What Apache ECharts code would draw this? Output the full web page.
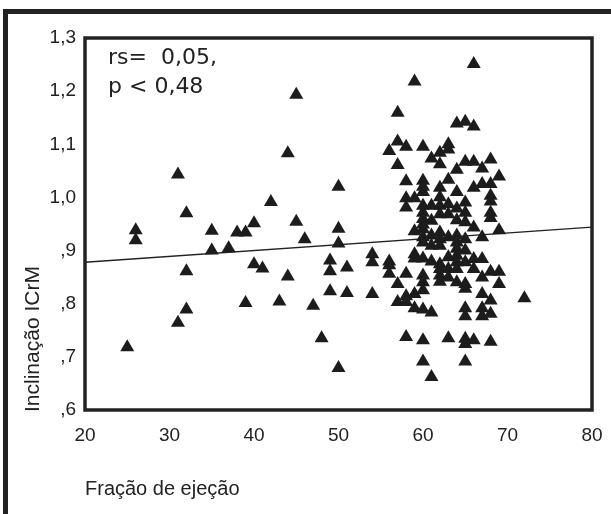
<!DOCTYPE html>
<html>
<head>
<meta charset="utf-8">
<script src="https://cdn.jsdelivr.net/npm/echarts@6/dist/echarts.min.js"></script>
<style>html,body{margin:0;padding:0;background:#fff;}#c{width:611px;height:514px;}</style>
</head>
<body>
<div id="c"></div>
<script>
// Ejection fraction (x) grouped by value, and ICrM slope values (y)
const ejectionFraction = [
  25, 26, 26, 31, 31, 32, 32, 32, 35, 35, 37, 38, 39, 39, 40, 40, 41, 42, 43, 44, 44, 45, 45, 46, 47, 48,
  49, 49, 49, 50, 50, 50, 50, 51, 51, 54, 54, 54,
  56, 56, 56, 56,
  57, 57, 57, 57, 57,
  58, 58, 58, 58, 58, 58, 58, 58,
  59, 59, 59, 59, 59, 59, 59,
  60, 60, 60, 60, 60, 60, 60, 60, 60, 60, 60, 60, 60, 60, 60, 60, 60, 60,
  61, 61, 61, 61, 61, 61, 61, 61,
  62, 62, 62, 62, 62, 62, 62, 62, 62, 62, 62, 62, 62,
  63, 63, 63, 63, 63, 63, 63, 63, 63, 63,
  64, 64, 64, 64, 64, 64, 64, 64, 64, 64, 64, 64,
  65, 65, 65, 65, 65, 65, 65, 65, 65, 65, 65, 65, 65, 65, 65,
  66, 66, 66, 66, 66, 66, 66, 66,
  67, 67, 67, 67, 67, 67, 67, 67,
  68, 68, 68, 68, 68, 68, 68, 68, 68, 68,
  69, 69, 69, 69,
  72
];
const inclination = [
  0.722, 0.942, 0.923, 1.047, 0.768, 0.974, 0.865, 0.793, 0.941, 0.904, 0.908, 0.938, 0.938, 0.805, 0.955, 0.878, 0.870, 0.995, 0.808, 1.087, 0.855, 1.197, 0.958, 0.925, 0.800, 0.739,
  0.885, 0.865, 0.827, 1.024, 0.945, 0.917, 0.683, 0.872, 0.824, 0.897, 0.882, 0.822,
  1.091, 0.883, 0.876, 0.860,
  1.163, 1.109, 1.065, 0.841, 0.807,
  1.099, 1.034, 1.002, 0.985, 0.860, 0.818, 0.807, 0.741,
  1.222, 1.002, 0.940, 0.897, 0.889, 0.822, 0.795,
  1.099, 1.035, 1.024, 1.014, 0.988, 0.975, 0.963, 0.953, 0.944, 0.929, 0.919, 0.889, 0.857, 0.844, 0.829, 0.793, 0.735, 0.695,
  1.077, 0.988, 0.960, 0.932, 0.913, 0.883, 0.787, 0.666,
  1.088, 1.066, 1.022, 1.004, 0.988, 0.972, 0.938, 0.925, 0.913, 0.878, 0.869, 0.857, 0.845,
  1.104, 1.094, 1.037, 0.991, 0.972, 0.929, 0.891, 0.869, 0.853, 0.739,
  1.143, 1.056, 1.014, 0.983, 0.961, 0.932, 0.919, 0.907, 0.894, 0.882, 0.869, 0.844,
  1.146, 1.071, 0.994, 0.975, 0.957, 0.925, 0.904, 0.882, 0.841, 0.832, 0.795, 0.780, 0.738, 0.728, 0.695,
  1.255, 1.137, 1.071, 1.022, 0.947, 0.888, 0.869, 0.735,
  1.058, 1.029, 0.929, 0.888, 0.853, 0.822, 0.795, 0.780,
  1.075, 1.029, 1.007, 0.996, 0.975, 0.965, 0.864, 0.810, 0.785, 0.732,
  1.043, 0.942, 0.864, 0.841,
  0.814
];
// Fitted regression line end points
const fitX = [20, 80];
const fitY = [0.878, 0.944];
// Tick labels
const yTickValues = [0.6, 0.7, 0.8, 0.9, 1.0, 1.1, 1.2, 1.3];
const yTickLabels = [',6', ',7', ',8', ',9', '1,0', '1,1', '1,2', '1,3'];
const xTickLabels = ['20', '30', '40', '50', '60', '70', '80'];
const statLines = ['rs=  0,05,', 'p < 0,48'];
const xName = 'Fração de ejeção';
const yName = 'Inclinação ICrM';

const points = ejectionFraction.map((x, i) => [x, inclination[i]]);
const fitLine = fitX.map((x, i) => [x, fitY[i]]);

const chart = echarts.init(document.getElementById('c'), null, {renderer: 'canvas'});
const tickFont = 'Liberation Sans, Arial, sans-serif';
const statFont = 'DejaVu Sans, sans-serif';
chart.setOption({
  animation: false,
  backgroundColor: '#fff',
  grid: {left: 85, right: 19, top: 38, bottom: 104, show: true, borderColor: '#222', borderWidth: 3.5, backgroundColor: 'transparent'},
  xAxis: {
    type: 'value', min: 20, max: 80, interval: 10,
    axisLine: {show: false}, axisTick: {show: false}, splitLine: {show: false},
    axisLabel: {
      margin: 16, color: '#222', fontSize: 19, fontFamily: tickFont,
      formatter: v => { const i = Math.round((v - 20) / 10); return xTickLabels[i] !== undefined ? xTickLabels[i] : ''; }
    }
  },
  yAxis: {
    type: 'value', min: 0.6, max: 1.3, interval: 0.1,
    axisLine: {show: false}, axisTick: {show: false}, splitLine: {show: false},
    axisLabel: {
      margin: 9, color: '#222', fontSize: 19, fontFamily: tickFont,
      formatter: v => { const i = yTickValues.findIndex(t => Math.abs(t - v) < 1e-6); return i >= 0 ? yTickLabels[i] : ''; }
    }
  },
  series: [
    {
      type: 'line', data: fitLine, symbol: 'none', silent: true,
      lineStyle: {color: '#222', width: 1.3}, z: 1
    },
    {
      type: 'scatter', data: points, symbol: 'triangle', symbolSize: [14, 12],
      itemStyle: {color: '#1c1c1c', opacity: 1}, z: 2
    }
  ],
  graphic: [
    {type: 'rect', shape: {x: 3, y: 9, width: 5, height: 510}, style: {fill: '#222'}, silent: true},
    {type: 'rect', shape: {x: 3, y: 9, width: 610, height: 5}, style: {fill: '#222'}, silent: true},
    {type: 'text', left: 108, top: 47, style: {text: statLines[0], fontSize: 22, fontFamily: statFont, fill: '#222'}},
    {type: 'text', left: 108, top: 76, style: {text: statLines[1], fontSize: 22, fontFamily: statFont, fill: '#222'}},
    {type: 'text', left: 85, top: 479, style: {text: xName, fontSize: 20, fontFamily: tickFont, fill: '#222'}},
    {type: 'text', x: 44, y: 412, rotation: Math.PI / 2, style: {text: yName, fontSize: 21, fontFamily: tickFont, fill: '#222', align: 'left', verticalAlign: 'bottom'}}
  ]
});
</script>
</body>
</html>
